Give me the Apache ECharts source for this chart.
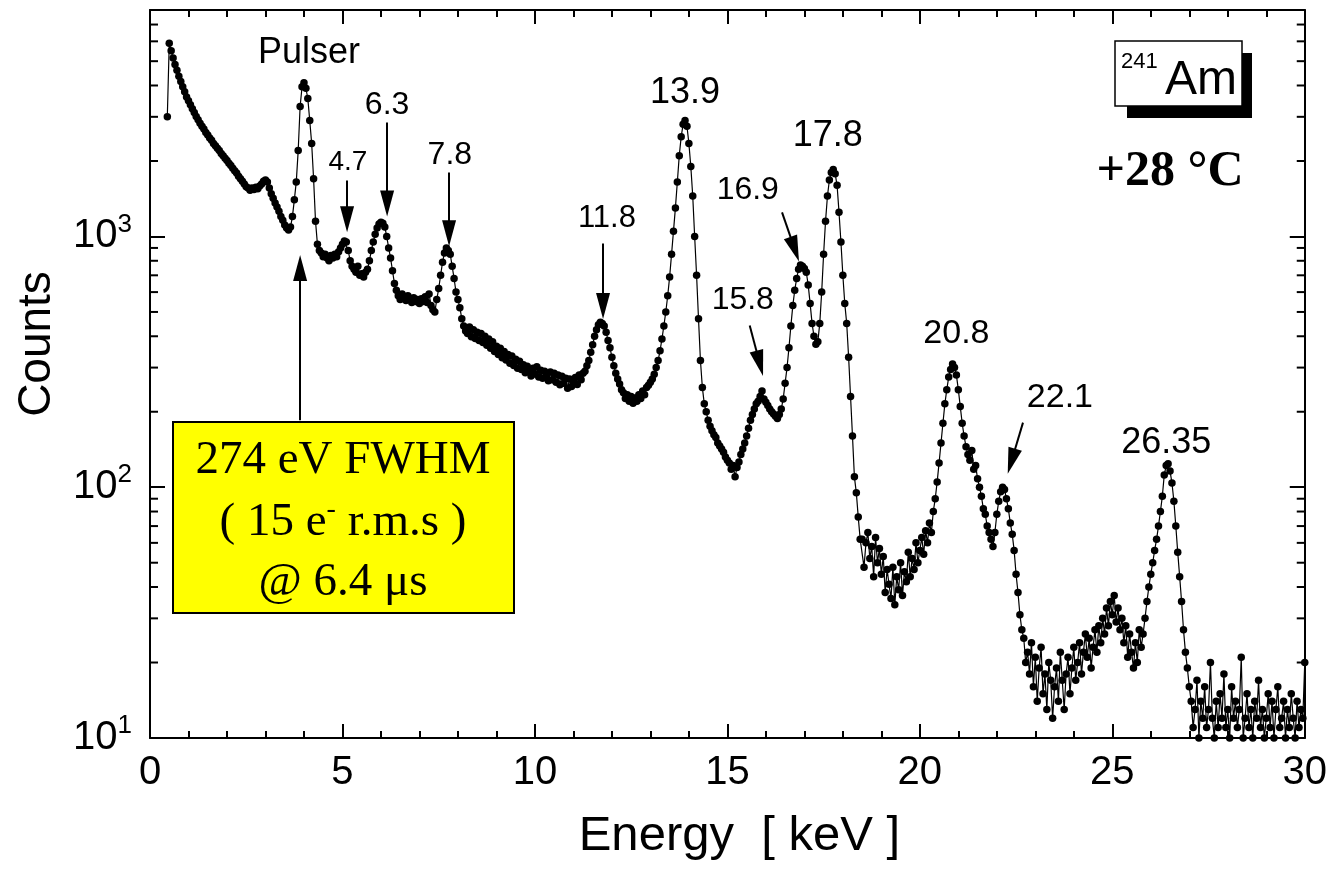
<!DOCTYPE html>
<html>
<head>
<meta charset="utf-8">
<title>241Am spectrum</title>
<script src="https://cdn.jsdelivr.net/npm/echarts@6/dist/echarts.min.js"></script>
<style>
html, body { margin: 0; padding: 0; background: #fff; }
#main { width: 1330px; height: 873px; }
</style>
</head>
<body>
<div id="main"></div>
<script>
// spectrum: channel width 0.05 keV, each row is one keV (first row starts at 0.45)
const rowStart = [0.45, 1, 2, 3, 4, 5, 6, 7, 8, 9, 10, 11, 12, 13, 14, 15, 16, 17, 18, 19, 20, 21, 22, 23, 24, 25, 26, 27, 28, 29, 30];
const chanWidth = 0.05;
const countRows = [
  [3000, 5900, 5500, 5150, 4850, 4600, 4350, 4150, 3950, 3780, 3600],
  [3480, 3350, 3230, 3120, 3010, 2920, 2830, 2750, 2680, 2600, 2540, 2470, 2420, 2350, 2300, 2250, 2200, 2140, 2100, 2050],
  [2010, 1960, 1920, 1870, 1830, 1790, 1740, 1700, 1660, 1620, 1580, 1560, 1530, 1560, 1540, 1570, 1550, 1590, 1620, 1660],
  [1680, 1650, 1560, 1480, 1420, 1360, 1310, 1260, 1200, 1160, 1110, 1080, 1060, 1090, 1200, 1400, 1650, 2200, 3300, 3950],
  [4100, 3900, 3550, 2900, 2350, 1700, 1150, 930, 880, 860, 830, 850, 820, 800, 840, 820, 850, 830, 870, 900],
  [930, 960, 950, 880, 800, 760, 740, 720, 760, 700, 710, 690, 720, 740, 800, 880, 950, 1020, 1080, 1120],
  [1140, 1130, 1090, 1000, 900, 820, 730, 650, 610, 580, 560, 590, 570, 555, 580, 560, 545, 570, 550, 560],
  [540, 565, 550, 575, 545, 590, 530, 510, 500, 560, 620, 700, 790, 860, 900, 880, 850, 760, 680, 600],
  [560, 520, 470, 440, 420, 410, 435, 398, 425, 392, 415, 385, 410, 378, 400, 368, 390, 358, 380, 348],
  [365, 338, 358, 328, 348, 322, 338, 312, 334, 306, 324, 298, 318, 295, 308, 286, 304, 290, 278, 298],
  [283, 302, 275, 293, 272, 290, 278, 266, 288, 268, 285, 262, 280, 256, 277, 260, 272, 248, 270, 252],
  [267, 274, 257, 280, 268, 285, 290, 305, 320, 345, 370, 400, 425, 445, 455, 450, 440, 415, 385, 360],
  [330, 305, 285, 270, 258, 245, 238, 226, 234, 220, 230, 216, 227, 220, 234, 226, 242, 234, 250, 255],
  [262, 270, 282, 300, 320, 350, 390, 440, 500, 580, 690, 850, 1050, 1300, 1650, 2100, 2500, 2800, 2900, 2750],
  [2350, 1900, 1450, 1000, 700, 470, 320, 250, 215, 200, 185, 175, 168, 162, 158, 150, 146, 142, 138, 132],
  [128, 125, 118, 122, 110, 120, 126, 135, 142, 150, 160, 172, 185, 195, 205, 215, 220, 230, 242, 225],
  [218, 212, 205, 200, 196, 192, 188, 195, 205, 225, 260, 300, 360, 440, 530, 610, 680, 740, 770, 760],
  [745, 720, 640, 540, 450, 400, 372, 380, 450, 600, 850, 1150, 1450, 1680, 1800, 1850, 1780, 1600, 1250, 950],
  [700, 540, 450, 330, 230, 160, 110, 95, 76, 62, 62, 48, 60, 66, 52, 58, 44, 63, 50, 57],
  [45, 53, 38, 47, 41, 36, 48, 34, 44, 39, 50, 37, 46, 42, 55, 44, 52, 47, 60, 50],
  [56, 63, 54, 67, 60, 72, 66, 80, 90, 105, 125, 150, 180, 215, 245, 275, 295, 310, 300, 280],
  [245, 210, 180, 160, 145, 135, 128, 140, 118, 122, 108, 100, 92, 82, 78, 70, 66, 62, 58, 66],
  [78, 88, 96, 100, 98, 90, 82, 72, 65, 56, 45, 38, 31, 27, 25, 20, 22, 18, 24, 16],
  [21, 14, 19, 23, 15, 18, 13, 20, 17, 12, 16, 19, 14, 22, 17, 13, 18, 21, 15, 19],
  [23, 17, 20, 24, 18, 22, 26, 21, 25, 19, 23, 27, 22, 28, 24, 30, 26, 33, 28, 35],
  [31, 37, 29, 33, 27, 30, 24, 28, 21, 26, 22, 19, 24, 20, 27, 23, 26, 30, 35, 40],
  [45, 50, 56, 62, 70, 80, 92, 112, 122, 124, 116, 104, 88, 70, 55, 44, 35, 27, 22, 19],
  [16, 14, 11, 13, 17, 10, 14, 12, 16, 11, 13, 20, 12, 10, 14, 11, 15, 12, 18, 11],
  [13, 10, 16, 12, 14, 11, 13, 21, 10, 12, 15, 11, 13, 10, 14, 12, 17, 11, 13, 10],
  [12, 15, 11, 14, 10, 13, 16, 11, 12, 14, 10, 13, 11, 15, 12, 10, 14, 11, 13, 12],
  [20]
];

// log axis minor ticks (2..9 per decade)
const minorTickVals = [20, 30, 40, 50, 60, 70, 80, 90, 200, 300, 400, 500, 600, 700, 800, 900, 2000, 3000, 4000, 5000, 6000, 7000];

// peak labels: [energy, counts, text, fontSize]
const peakLabels = [
  [4.13, 5410, 'Pulser', 36],
  [5.14, 1972, '4.7', 28],
  [6.16, 3327, '6.3', 32],
  [7.79, 2104, '7.8', 32],
  [11.87, 1180, '11.8', 31],
  [13.9, 3715, '13.9', 36],
  [15.4, 556, '15.8', 32],
  [15.53, 1525, '16.9', 32],
  [17.61, 2523, '17.8', 36],
  [20.95, 411, '20.8', 34],
  [23.64, 228, '22.1', 34],
  [26.4, 150, '26.35', 36]
];

// arrows: [fromE, fromC, toE, toC] (to = arrow head centre)
const arrows = [
  [5.12, 1670, 5.12, 1170],
  [6.16, 2845, 6.16, 1355],
  [7.77, 1800, 7.77, 1030],
  [11.77, 938, 11.77, 528],
  [15.58, 442, 15.84, 312],
  [16.42, 1247, 16.75, 890],
  [22.68, 181, 22.38, 127],
  [3.9, 185, 3.9, 749]
];

const spectrum = [];
countRows.forEach(function (row, r) {
  row.forEach(function (c, j) {
    spectrum.push([+(rowStart[r] + j * chanWidth).toFixed(2), c]);
  });
});

const sans = 'Liberation Sans';
const serif = 'Liberation Serif';
const headPath = 'path://M7 0 L14 26 L0 26 Z';

const chart = echarts.init(document.getElementById('main'));

const xAxisBase = {
  type: 'value', min: 0, max: 30, interval: 5,
  axisLine: { lineStyle: { color: '#000', width: 2 } },
  axisTick: { inside: true, length: 14, lineStyle: { color: '#000', width: 2 } },
  minorTick: { show: true, splitNumber: 5, length: 7, lineStyle: { color: '#000', width: 2 } },
  splitLine: { show: false }
};
const yAxisBase = {
  type: 'log', logBase: 10, min: 10, max: 8000,
  axisLine: { show: true, onZero: false, lineStyle: { color: '#000', width: 2 } },
  axisTick: { show: true, inside: true, length: 15, lineStyle: { color: '#000', width: 2 } },
  splitLine: { show: false }
};

chart.setOption({
  animation: false,
  backgroundColor: '#fff',
  grid: { left: 150, right: 25, top: 10, bottom: 135 },
  xAxis: [
    Object.assign({}, xAxisBase, {
      position: 'bottom',
      name: 'Energy  [ keV ]', nameLocation: 'middle', nameGap: 74,
      nameTextStyle: { fontFamily: sans, fontSize: 49, color: '#000', padding: [0, 0, 0, 24] },
      axisLabel: { margin: 15, fontFamily: sans, fontSize: 40, color: '#000' }
    }),
    Object.assign({}, xAxisBase, { position: 'top', axisLabel: { show: false } })
  ],
  yAxis: [
    Object.assign({}, yAxisBase, {
      position: 'left',
      name: 'Counts', nameLocation: 'middle', nameGap: 90,
      nameTextStyle: { fontFamily: sans, fontSize: 46, color: '#000', padding: [0, 0, 0, 60] },
      axisLabel: {
        margin: 18, color: '#000',
        formatter: function (v) {
          const e = Math.round(Math.log10(v));
          if (Math.abs(Math.log10(v) - e) > 1e-6) return '';
          return '{b|10}{s|' + e + '}';
        },
        rich: {
          b: { fontFamily: sans, fontSize: 40, color: '#000' },
          s: { fontFamily: sans, fontSize: 26, color: '#000', padding: [0, 0, 24, 0] }
        }
      }
    }),
    Object.assign({}, yAxisBase, { position: 'right', axisLabel: { show: false } })
  ],
  series: [
    {
      type: 'custom',
      silent: true,
      clip: false,
      data: minorTickVals.map(function (v) { return [0, v]; }),
      renderItem: function (params, api) {
        const p = api.coord([0, api.value(1)]);
        const cs = params.coordSys;
        return {
          type: 'group',
          children: [
            { type: 'line', shape: { x1: cs.x, y1: p[1], x2: cs.x + 8, y2: p[1] }, style: { stroke: '#000', lineWidth: 2 } },
            { type: 'line', shape: { x1: cs.x + cs.width, y1: p[1], x2: cs.x + cs.width - 8, y2: p[1] }, style: { stroke: '#000', lineWidth: 2 } }
          ]
        };
      }
    },
    {
      type: 'line',
      data: spectrum,
      symbol: 'circle',
      symbolSize: 7.5,
      showAllSymbol: true,
      itemStyle: { color: '#000' },
      lineStyle: { color: '#000', width: 1.2 },
      z: 3,
      markLine: {
        silent: true,
        animation: false,
        label: { show: false },
        lineStyle: { color: '#000', width: 2, type: 'solid' },
        data: arrows.map(function (a) {
          return [
            { coord: [a[0], a[1]], symbol: 'none', symbolSize: 1 },
            { coord: [a[2], a[3]], symbol: headPath, symbolSize: [14, 26] }
          ];
        })
      },
      markPoint: {
        silent: true,
        animation: false,
        symbol: 'rect',
        symbolSize: 1,
        itemStyle: { color: 'rgba(0,0,0,0)' },
        label: { show: true, position: 'inside', formatter: '{b}', color: '#000', fontFamily: sans },
        data: peakLabels.map(function (p) {
          return { name: p[2], coord: [p[0], p[1]], label: { fontSize: p[3] } };
        })
      }
    }
  ],
  graphic: [
    {
      type: 'group',
      children: [
        { type: 'rect', shape: { x: 173, y: 422, width: 341, height: 191 }, style: { fill: '#ffff00', stroke: '#000', lineWidth: 2 } },
        { type: 'text', x: 343, y: 461, style: { text: '274 eV FWHM', font: '47px "Liberation Serif"', fill: '#000', align: 'center', verticalAlign: 'middle' } },
        { type: 'text', x: 343, y: 523, style: {
            text: '( 15 e{s|-} r.m.s )', font: '47px "Liberation Serif"', fill: '#000', align: 'center', verticalAlign: 'middle',
            rich: { s: { fontFamily: serif, fontSize: 28, fill: '#000', padding: [0, 0, 26, 0] } }
          } },
        { type: 'text', x: 343, y: 583, style: { text: '@ 6.4 \u03bcs', font: '47px "Liberation Serif"', fill: '#000', align: 'center', verticalAlign: 'middle' } }
      ]
    },
    {
      type: 'group',
      children: [
        { type: 'rect', shape: { x: 1127, y: 53, width: 125, height: 65 }, style: { fill: '#000' } },
        { type: 'rect', shape: { x: 1115, y: 41, width: 127, height: 65 }, style: { fill: '#fff', stroke: '#000', lineWidth: 1.5 } },
        { type: 'text', x: 1121, y: 62, style: { text: '241', font: '22px "Liberation Sans"', fill: '#000', align: 'left', verticalAlign: 'middle' } },
        { type: 'text', x: 1165, y: 81, style: { text: 'Am', font: '48px "Liberation Sans"', fill: '#000', align: 'left', verticalAlign: 'middle' } }
      ]
    },
    { type: 'text', x: 1170, y: 172, style: { text: '+28 \u00b0C', font: 'bold 50px "Liberation Serif"', fill: '#000', align: 'center', verticalAlign: 'middle' } }
  ]
});
</script>
</body>
</html>
